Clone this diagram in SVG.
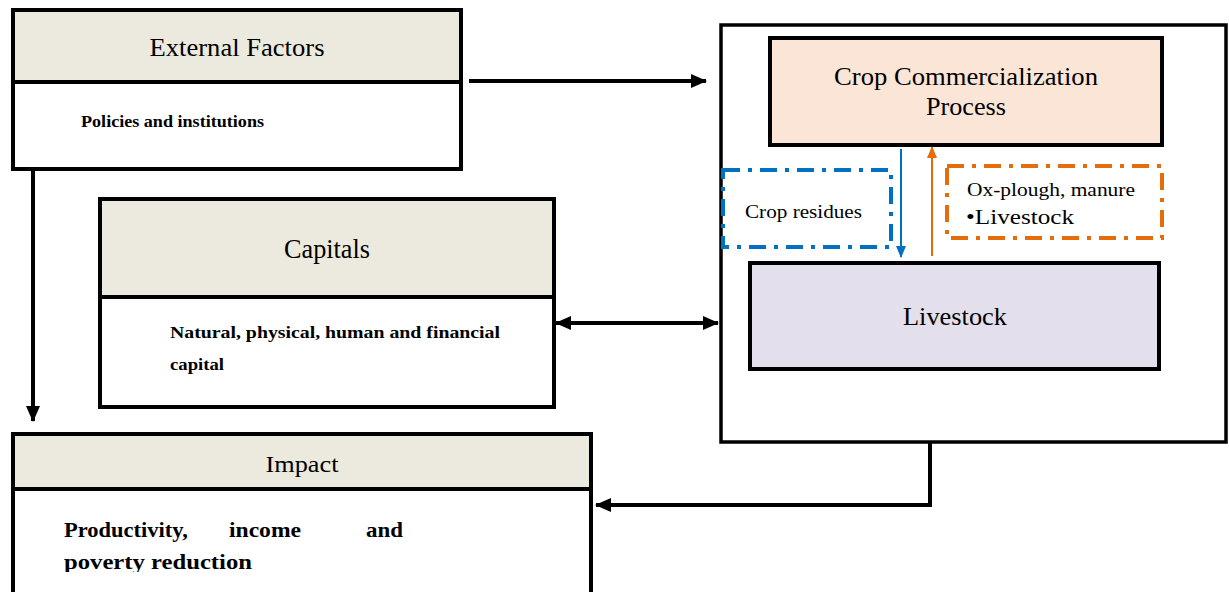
<svg xmlns="http://www.w3.org/2000/svg" width="1229" height="592" viewBox="0 0 1229 592">
<style>
.box{fill:#fff;stroke:#000;stroke-width:4}
.hdr{fill:#ECE9DF;stroke:#000;stroke-width:4}
.t{font-family:"Liberation Serif","Times New Roman",serif;fill:#000}
.b{font-family:"Liberation Serif","Times New Roman",serif;font-weight:bold;fill:#000}
.con{fill:none;stroke:#000;stroke-width:4}
</style>
<defs>
<marker id="ah" markerUnits="userSpaceOnUse" markerWidth="16" markerHeight="16" viewBox="0 0 16 16" refX="15" refY="8" orient="auto-start-reverse">
<path d="M0,1 L16,8 L0,15 Z" fill="#000"/>
</marker>
<marker id="ahb" markerUnits="userSpaceOnUse" markerWidth="12" markerHeight="12" viewBox="0 0 12 12" refX="11" refY="6" orient="auto">
<path d="M0,1 L12,6 L0,11 Z" fill="#0070C0"/>
</marker>
<marker id="aho" markerUnits="userSpaceOnUse" markerWidth="12" markerHeight="12" viewBox="0 0 12 12" refX="11" refY="6" orient="auto">
<path d="M0,1 L12,6 L0,11 Z" fill="#E46C0A"/>
</marker>
<clipPath id="clipImpact"><rect x="0" y="0" width="1229" height="572"/></clipPath>
</defs>

<g id="external-factors">
<rect class="box" x="13" y="10" width="448" height="159"/>
<rect class="hdr" x="13" y="10" width="448" height="72"/>
<text class="t" x="237" y="56" font-size="26" text-anchor="middle" textLength="175" lengthAdjust="spacingAndGlyphs">External Factors</text>
<text class="b" x="81" y="127" font-size="16" textLength="183" lengthAdjust="spacingAndGlyphs">Policies and institutions</text>
</g>

<g id="capitals">
<rect class="box" x="100" y="199" width="454" height="208"/>
<rect class="hdr" x="100" y="199" width="454" height="98"/>
<text class="t" x="327" y="258" font-size="27" text-anchor="middle" textLength="86" lengthAdjust="spacingAndGlyphs">Capitals</text>
<text class="b" x="170" y="338" font-size="16" textLength="330" lengthAdjust="spacingAndGlyphs">Natural, physical, human and financial</text>
<text class="b" x="170" y="370" font-size="16" textLength="54" lengthAdjust="spacingAndGlyphs">capital</text>
</g>

<g id="impact">
<rect class="box" x="13" y="434" width="578" height="170"/>
<rect class="hdr" x="13" y="434" width="578" height="55"/>
<text class="t" x="302" y="472" font-size="24" text-anchor="middle" textLength="73" lengthAdjust="spacingAndGlyphs">Impact</text>
<g clip-path="url(#clipImpact)">
<text class="b" x="64" y="537" font-size="21" textLength="124" lengthAdjust="spacingAndGlyphs">Productivity,</text>
<text class="b" x="229" y="537" font-size="21" textLength="72" lengthAdjust="spacingAndGlyphs">income</text>
<text class="b" x="366" y="537" font-size="21" textLength="37" lengthAdjust="spacingAndGlyphs">and</text>
<text class="b" x="64" y="569" font-size="21" textLength="188" lengthAdjust="spacingAndGlyphs">poverty reduction</text>
</g>
</g>

<g id="system">
<rect x="721" y="25" width="505" height="417" fill="#fff" stroke="#000" stroke-width="3.5"/>
</g>

<g id="crop-commercialization">
<rect x="770" y="38" width="392" height="107" fill="#FBE5D6" stroke="#000" stroke-width="4"/>
<text class="t" x="966" y="85" font-size="25" text-anchor="middle" textLength="264" lengthAdjust="spacingAndGlyphs">Crop Commercialization</text>
<text class="t" x="966" y="115" font-size="25" text-anchor="middle" textLength="80" lengthAdjust="spacingAndGlyphs">Process</text>
</g>

<g id="livestock">
<rect x="750" y="263" width="409" height="106" fill="#E4DFEC" stroke="#000" stroke-width="4"/>
<text class="t" x="955" y="325" font-size="25" text-anchor="middle" textLength="104" lengthAdjust="spacingAndGlyphs">Livestock</text>
</g>

<g id="crop-residues">
<rect x="723" y="170" width="168" height="77" fill="none" stroke="#0070C0" stroke-width="4" stroke-dasharray="17,8,4,8"/>
<text class="t" x="745" y="218" font-size="18" textLength="117" lengthAdjust="spacingAndGlyphs">Crop residues</text>
</g>

<g id="ox-plough">
<rect x="947" y="166" width="215" height="72" fill="none" stroke="#E46C0A" stroke-width="4" stroke-dasharray="17,8,4,8"/>
<text class="t" x="967" y="196" font-size="18" textLength="168" lengthAdjust="spacingAndGlyphs">Ox-plough, manure</text>
<text class="t" x="966" y="224" font-size="21" textLength="108" lengthAdjust="spacingAndGlyphs">•Livestock</text>
</g>

<g id="connectors">
<line class="con" x1="469" y1="81" x2="706" y2="81" marker-end="url(#ah)"/>
<line class="con" x1="33" y1="170" x2="33" y2="421" marker-end="url(#ah)"/>
<line class="con" x1="556" y1="323" x2="718" y2="323" marker-start="url(#ah)" marker-end="url(#ah)"/>
<polyline class="con" points="930,442 930,505 596,505" marker-end="url(#ah)"/>
<line x1="901" y1="149" x2="901" y2="257" stroke="#0070C0" stroke-width="2" marker-end="url(#ahb)"/>
<line x1="932" y1="256" x2="932" y2="147" stroke="#E46C0A" stroke-width="2" marker-end="url(#aho)"/>
</g>
</svg>
